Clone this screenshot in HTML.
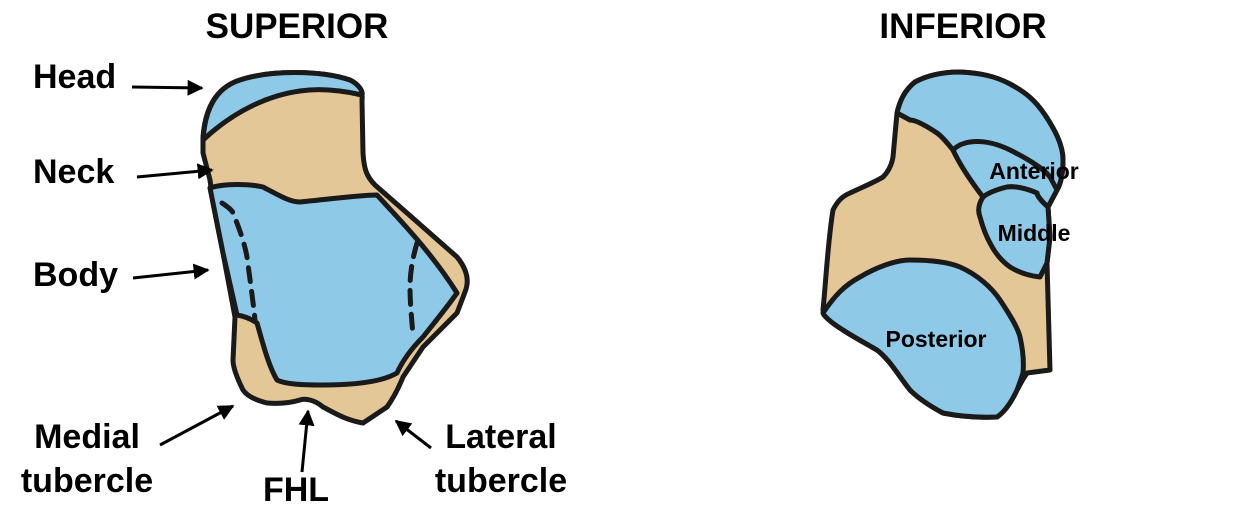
<!DOCTYPE html>
<html><head><meta charset="utf-8"><style>
body{margin:0;background:#fff;}
svg{display:block}
text{font-family:"Liberation Sans",Arial,sans-serif;font-weight:bold;fill:#000}
</style></head><body>
<svg width="1247" height="524" viewBox="0 0 1247 524" xmlns="http://www.w3.org/2000/svg">
<defs>
<marker id="a" viewBox="0 0 10 10" refX="9" refY="5" markerWidth="16" markerHeight="16" markerUnits="userSpaceOnUse" orient="auto"><path d="M0,0 L10,5 L0,10 z" fill="#000"/></marker></defs>
<g stroke="#1a1a1a" stroke-width="5" stroke-linejoin="round" stroke-linecap="round">
<!-- superior -->
<path fill="#e3c796" d="M203,137 C205,110 215,88 240,80 C270,70 320,70 350,80 C360,85 363,92 362,100 L363,153 C364,168 366,176 375,185 L407,213 L457,257 C466,268 470,280 465,292 L457,313 L423,347 L403,377 C397,392 392,400 387,407 L363,423 C345,420 333,412 323,407 C315,400 305,398 300,400 C290,403 280,404 267,403 C255,400 247,396 243,390 C237,378 233,368 233,360 L235,317 L223,253 L213,203 L210,180 L203,153 Z"/>
<path fill="#8ecae8" d="M203,140 C205,110 215,88 240,80 C270,70 320,70 350,80 C360,85 363,92 362,95 C340,90 320,88 300,91 C270,95 235,110 203,140 Z"/>
<path fill="#8ecae8" d="M210,188 C225,183 250,184 263,187 C280,196 290,202 300,202 C330,199 360,195 377,195 C395,215 430,250 457,293 C445,310 430,328 423,337 C410,350 402,362 397,373 C380,383 350,385 323,385 C300,385 285,384 277,380 C268,365 262,340 257,323 C250,318 243,316 237,315 L223,253 L213,203 Z"/>
<path fill="none" stroke-dasharray="14,10" d="M222,203 C228,207 232,210 233,213 C240,230 245,245 247,257 C250,280 253,300 255,320"/>
<path fill="none" stroke-dasharray="14,10" d="M417,243 C412,260 410,275 410,287 C410,305 412,320 413,337"/>
<!-- inferior -->
<path fill="#e3c796" d="M897,113 C900,100 905,90 915,82 C930,74 945,72 960,72 C980,73 995,76 1010,84 C1025,92 1035,100 1045,115 C1055,130 1063,145 1063,160 C1063,175 1060,185 1057,190 L1048,207 L1050,237 L1047,263 L1050,370 L1027,373 C1022,380 1020,385 1017,390 C1010,405 1003,413 997,417 C975,418 958,416 943,413 C928,405 918,398 910,390 C898,375 890,360 877,350 C865,343 852,336 843,330 C830,322 823,315 823,310 C826,280 828,240 833,210 C838,200 843,196 850,193 C865,186 875,182 883,177 C890,170 892,163 893,157 Z"/>
<path fill="#8ecae8" d="M897,113 C900,100 905,90 915,82 C930,74 945,72 960,72 C980,73 995,76 1010,84 C1025,92 1035,100 1045,115 C1055,130 1063,145 1063,160 C1063,175 1060,185 1057,190 L1048,207 C1040,200 1037,195 1037,193 C1025,188 1015,186 1007,187 C995,190 988,193 983,197 C970,180 960,165 953,150 C945,140 940,135 937,133 C925,125 915,120 910,120 Z"/>
<path fill="#8ecae8" d="M953,150 C958,145 963,143 970,142 C985,140 1000,145 1010,150 C1030,160 1045,170 1050,177 L1057,190 L1048,207 C1040,200 1037,195 1037,193 C1025,188 1015,186 1007,187 C995,190 988,193 983,197 C970,180 960,165 953,150 Z"/>
<path fill="#8ecae8" d="M983,197 C978,205 978,212 980,217 C983,228 986,236 990,243 C996,255 1003,262 1010,267 C1020,273 1030,276 1040,277 L1047,263 L1050,237 L1048,207 C1040,200 1037,195 1037,193 C1025,188 1015,186 1007,187 C995,190 988,193 983,197 Z"/>
<path fill="#8ecae8" d="M823,313 C835,295 845,285 860,277 C875,268 895,260 910,260 C930,260 948,262 960,267 C978,275 992,288 1000,300 C1010,315 1018,328 1020,337 C1023,350 1024,362 1023,373 C1020,382 1018,388 1017,390 C1010,405 1003,413 997,417 C975,418 958,416 943,413 C928,405 918,398 910,390 C898,375 890,360 877,350 C865,343 852,336 843,330 C830,322 823,315 823,313 Z"/>
</g>
<!-- arrows -->
<g stroke="#000" stroke-width="3" fill="none" marker-end="url(#a)">
<line x1="132" y1="87" x2="202" y2="88"/>
<line x1="137" y1="177" x2="212" y2="170"/>
<line x1="133" y1="278" x2="208" y2="270"/>
<line x1="160" y1="445" x2="233" y2="406"/>
<line x1="302" y1="472" x2="308" y2="411"/>
<line x1="431" y1="448" x2="396" y2="421"/>
</g>
<g font-size="35">
<text x="297" y="38" text-anchor="middle">SUPERIOR</text>
<text x="963" y="38" text-anchor="middle">INFERIOR</text>
</g>
<g font-size="34">
<text x="33" y="88">Head</text>
<text x="33" y="183">Neck</text>
<text x="33" y="286">Body</text>
<text x="87" y="448" text-anchor="middle">Medial</text>
<text x="87" y="492" text-anchor="middle">tubercle</text>
<text x="296" y="501" text-anchor="middle">FHL</text>
<text x="501" y="448" text-anchor="middle">Lateral</text>
<text x="501" y="492" text-anchor="middle">tubercle</text>
</g>
<g font-size="23">
<text x="1034" y="179" text-anchor="middle">Anterior</text>
<text x="1034" y="241" text-anchor="middle">Middle</text>
<text x="936" y="347" text-anchor="middle">Posterior</text>
</g>
</svg>
</body></html>
